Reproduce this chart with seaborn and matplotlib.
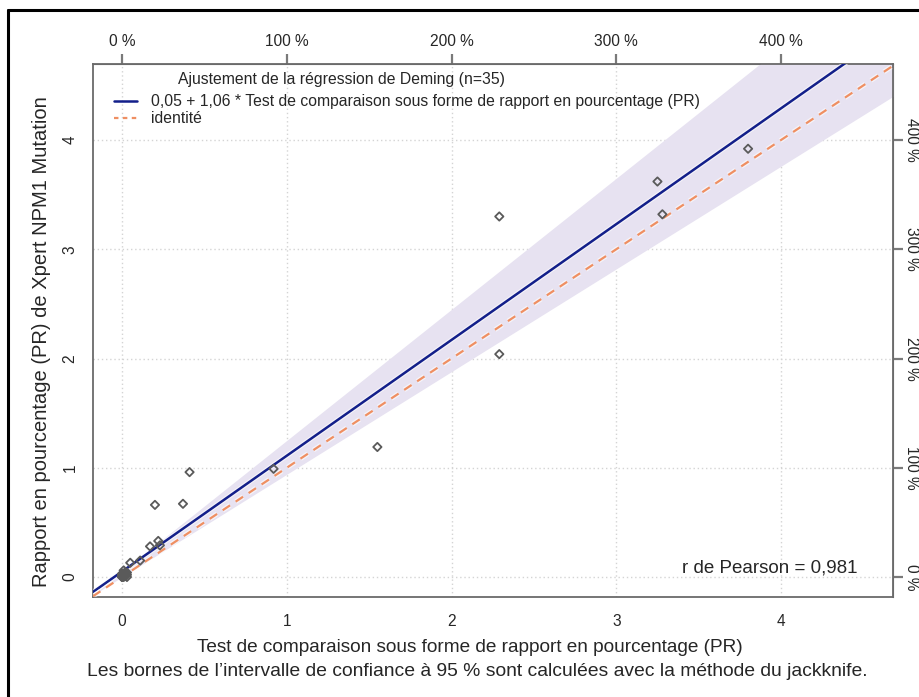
import numpy as np
import pandas as pd
import seaborn as sns
from matplotlib import pyplot as plt
from matplotlib.lines import Line2D
import matplotlib.patheffects as pe

# data
x_pr = [3.80, 3.25, 3.28, 2.29, 2.29, 1.55, 0.92, 0.41, 0.37, 0.20, 0.22, 0.17, 0.23,
        0.11, 0.05, 0.01,
        0.00, 0.00, 0.00, 0.01, 0.01, 0.01, 0.02, 0.02, 0.02, 0.03, 0.03, 0.00, 0.00,
        0.01, 0.02, 0.02, 0.00, 0.01, 0.03]
y_pr = [3.92, 3.62, 3.32, 3.30, 2.04, 1.19, 0.99, 0.96, 0.67, 0.66, 0.33, 0.28, 0.29,
        0.15, 0.13, 0.06,
        0.00, 0.01, 0.02, 0.00, 0.02, 0.03, 0.01, 0.03, 0.02, 0.02, 0.04, 0.00, 0.01,
        0.01, 0.02, 0.04, 0.03, 0.03, 0.00]

intercept = 0.05
slope = 1.06
ci_upper = (0.05, 1.20)   # intercept, slope of upper band edge
ci_lower = (0.00, 0.94)
pearson_r = "0,981"

x_ticks = [0, 1, 2, 3, 4]
pct_labels = ["0 %", "100 %", "200 %", "300 %", "400 %"]

df = pd.DataFrame({"x": x_pr, "y": y_pr})

sns.set_style("white")
plt.rcParams['font.family'] = ['Liberation Sans', 'DejaVu Sans']

fig = plt.figure(figsize=(9.2, 6.97), dpi=100)
ax = fig.add_axes([0.1011, 0.1435, 0.8696, 0.7647])

xmin, xmax = -0.176, 4.68
ymin, ymax = -0.183, 4.696
xs = np.linspace(xmin, xmax, 200)

# confidence band
ax.fill_between(xs, ci_lower[0] + ci_lower[1] * xs, ci_upper[0] + ci_upper[1] * xs,
                color="#e7e2f1", lw=0, zorder=1)

# grid
ax.grid(True, color="#d4d4d4", linestyle=(0, (1, 2)), lw=1.0, zorder=0)

# lines
white_edge = [pe.Stroke(linewidth=3.5, foreground="white", alpha=0.6), pe.Normal()]
ax.plot(xs, intercept + slope * xs, color="#131f8a", lw=1.8, zorder=3,
        path_effects=white_edge)
ax.plot(xs, xs, color="#ef8f62", lw=1.6, ls=(0, (4, 3)), zorder=3,
        path_effects=white_edge)

# points
sns.scatterplot(data=df, x="x", y="y", ax=ax, marker="D", s=18,
                facecolor="none", edgecolor="#5a5a5a", linewidth=1.3, zorder=4)

ax.set_xlim(xmin, xmax)
ax.set_ylim(ymin, ymax)
ax.set_xticks(x_ticks)
ax.set_yticks(x_ticks)
ax.set_xlabel("")
ax.set_ylabel("")
tick_kw = dict(direction="out", length=7, width=1.6, color="#7a7a7a", labelsize=11.2)
ax.tick_params(axis="x", pad=5, **tick_kw)
ax.tick_params(axis="y", pad=4, labelrotation=90, **tick_kw)
for lab in ax.get_yticklabels():
    lab.set_va("center")

for sp in ax.spines.values():
    sp.set_color("#6a6a6a")
    sp.set_linewidth(1.3)

# secondary axes (percent)
top = ax.secondary_xaxis("top")
top.set_xticks(x_ticks)
top.set_xticklabels(pct_labels)
top.tick_params(pad=4, **tick_kw)
right = ax.secondary_yaxis("right")
right.set_yticks(x_ticks)
right.set_yticklabels(pct_labels, rotation=270, va="center")
right.tick_params(pad=1, **tick_kw)
top.spines["top"].set_color("#6a6a6a")
right.spines["right"].set_color("#6a6a6a")

# legend
ax.text(0.106, 0.985, "Ajustement de la régression de Deming (n=35)", transform=ax.transAxes,
        fontsize=11.3, ha="left", va="top")
handles = [Line2D([], [], color="#131f8a", lw=1.8),
           Line2D([], [], color="#ef8f62", lw=1.6, ls=(0, (2, 2)))]
ax.legend(handles, ["0,05 + 1,06 * Test de comparaison sous forme de rapport en pourcentage (PR)",
                    "identité"],
          loc="upper left", bbox_to_anchor=(0.018, 0.955), frameon=False, fontsize=11.3,
          handlelength=1.5, handletextpad=0.85, labelspacing=0.12, borderaxespad=0)

ax.text(0.956, 0.055, "r de Pearson = " + pearson_r, transform=ax.transAxes,
        fontsize=13.5, ha="right", va="center")

fig.text(42 / 920, 1 - 342 / 697, "Rapport en pourcentage (PR) de Xpert NPM1 Mutation",
         fontsize=14.5, rotation=90, ha="center", va="center")
fig.text(470 / 920, 1 - 647 / 697, "Test de comparaison sous forme de rapport en pourcentage (PR)",
         fontsize=13.7, ha="center", va="center")
fig.text(477 / 920, 1 - 672 / 697,
         "Les bornes de l\u2019intervalle de confiance à 95 % sont calculées avec la méthode du jackknife.",
         fontsize=13.9, ha="center", va="center")

# outer frame (left and top edges)
fig.add_artist(Line2D([8 / 920, 8 / 920], [0, 1 - 10 / 697], color="black", lw=2.2))
fig.add_artist(Line2D([8 / 920, 1], [1 - 10 / 697, 1 - 10 / 697], color="black", lw=2.2))

plt.savefig("out.png", dpi=100)
plt.close()
